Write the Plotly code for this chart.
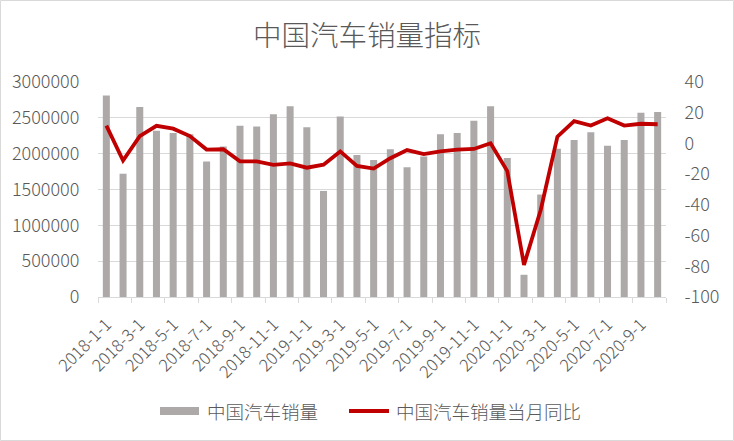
import plotly.graph_objects as go

months = [f"{y}-{m}-1" for y in (2018, 2019, 2020) for m in range(1, 13)][:34]

sales = [2810000, 1720000, 2650000, 2320000, 2290000, 2270000, 1890000, 2100000,
         2390000, 2380000, 2550000, 2660000,
         2370000, 1480000, 2520000, 1980000, 1910000, 2060000, 1810000, 1960000,
         2270000, 2290000, 2460000, 2660000,
         1940000, 310000, 1430000, 2070000, 2190000, 2300000, 2110000, 2190000,
         2570000, 2580000]

yoy = [11.6, -11.1, 4.7, 11.5, 9.6, 4.8, -4.0, -3.8, -11.6, -11.7, -13.9, -13.0,
       -15.8, -13.8, -5.2, -14.6, -16.4, -9.6, -4.3, -6.9, -5.2, -4.0, -3.6, 0.1,
       -18.0, -79.1, -43.3, 4.4, 14.5, 11.6, 16.4, 11.6, 12.8, 12.5]

left_ticks = [0, 500000, 1000000, 1500000, 2000000, 2500000, 3000000]
right_ticks = [-100, -80, -60, -40, -20, 0, 20, 40]

FONT = "Noto Sans CJK SC"
TXT = "#595959"
BAR = "#ADA9A9"
RED = "#C00000"
GRID = "#D9D9D9"

idx = list(range(len(months)))

fig = go.Figure()
fig.add_trace(go.Bar(x=idx, y=sales, name="中国汽车销量", marker_color=BAR,
                     marker_line_width=0, yaxis="y"))
fig.add_trace(go.Scatter(x=idx, y=yoy, name="中国汽车销量当月同比", mode="lines",
                         line=dict(color=RED, width=3.8), yaxis="y2"))

W, H = 734, 441
L, R, T, B = 98, 68, 82, 144
pw, ph = W - L - R, H - T - B

def px(x):
    return (x - L) / pw

def py(y):
    return (H - B - y) / ph

shapes = [
    dict(type="rect", xref="paper", yref="paper", x0=px(0.5), x1=px(W - 0.5),
         y0=py(H - 0.5), y1=py(0.5), line=dict(color=GRID, width=1), layer="below"),
    dict(type="rect", xref="paper", yref="paper", x0=px(160), x1=px(199),
         y0=py(415), y1=py(407), fillcolor=BAR, line=dict(width=0)),
    dict(type="line", xref="paper", yref="paper", x0=px(349), x1=px(389),
         y0=py(411), y1=py(411), line=dict(color=RED, width=4)),
]
annotations = [
    dict(text="中国汽车销量", xref="paper", yref="paper", x=px(205), y=py(411),
         xanchor="left", yanchor="middle", showarrow=False,
         font=dict(family=FONT, size=18.5, color=TXT, weight=300)),
    dict(text="中国汽车销量当月同比", xref="paper", yref="paper", x=px(394), y=py(411),
         xanchor="left", yanchor="middle", showarrow=False,
         font=dict(family=FONT, size=18.5, color=TXT, weight=300)),
]

fig.update_layout(
    width=W, height=H,
    margin=dict(l=L, r=R, t=T, b=B),
    paper_bgcolor="white", plot_bgcolor="white",
    font=dict(family=FONT, size=18, color=TXT, weight=300),
    title=dict(text="中国汽车销量指标", x=0.5, xanchor="center", y=1 - 36 / H,
               yanchor="middle",
               font=dict(family=FONT, size=28.5, color=TXT, weight=300)),
    showlegend=False,
    bargap=0.58,
    shapes=shapes,
    annotations=annotations,
    xaxis=dict(
        range=[-0.5, len(months) - 0.5],
        tickmode="array", tickvals=idx[::2], ticktext=months[::2],
        tickangle=-45, ticks="outside", ticklen=10, tickcolor="rgba(0,0,0,0)",
        tickfont=dict(family=FONT, size=17, color=TXT, weight=300),
        showgrid=False, showline=True, linecolor=GRID, linewidth=1,
        zeroline=False,
        minor=dict(tickmode="linear", tick0=-0.5, dtick=2, ticks="outside",
                   ticklen=5, tickcolor=GRID, tickwidth=1, showgrid=False),
    ),
    yaxis=dict(
        range=[0, 3000000], tickmode="array", tickvals=left_ticks,
        ticktext=[str(v) for v in left_ticks],
        ticks="outside", ticklen=14, tickcolor="rgba(0,0,0,0)",
        showgrid=True, gridcolor=GRID, gridwidth=1, zeroline=False,
        tickfont=dict(family=FONT, size=18, color=TXT, weight=300),
    ),
    yaxis2=dict(
        range=[-100, 40], overlaying="y", side="right", tickmode="array",
        tickvals=right_ticks, ticktext=[str(v) for v in right_ticks],
        ticks="outside", ticklen=14, tickcolor="rgba(0,0,0,0)",
        showgrid=False, zeroline=False,
        tickfont=dict(family=FONT, size=18, color=TXT, weight=300),
    ),
)

fig.write_html("out.html", config={"displayModeBar": False},
               post_script="document.body.style.margin='0';")
